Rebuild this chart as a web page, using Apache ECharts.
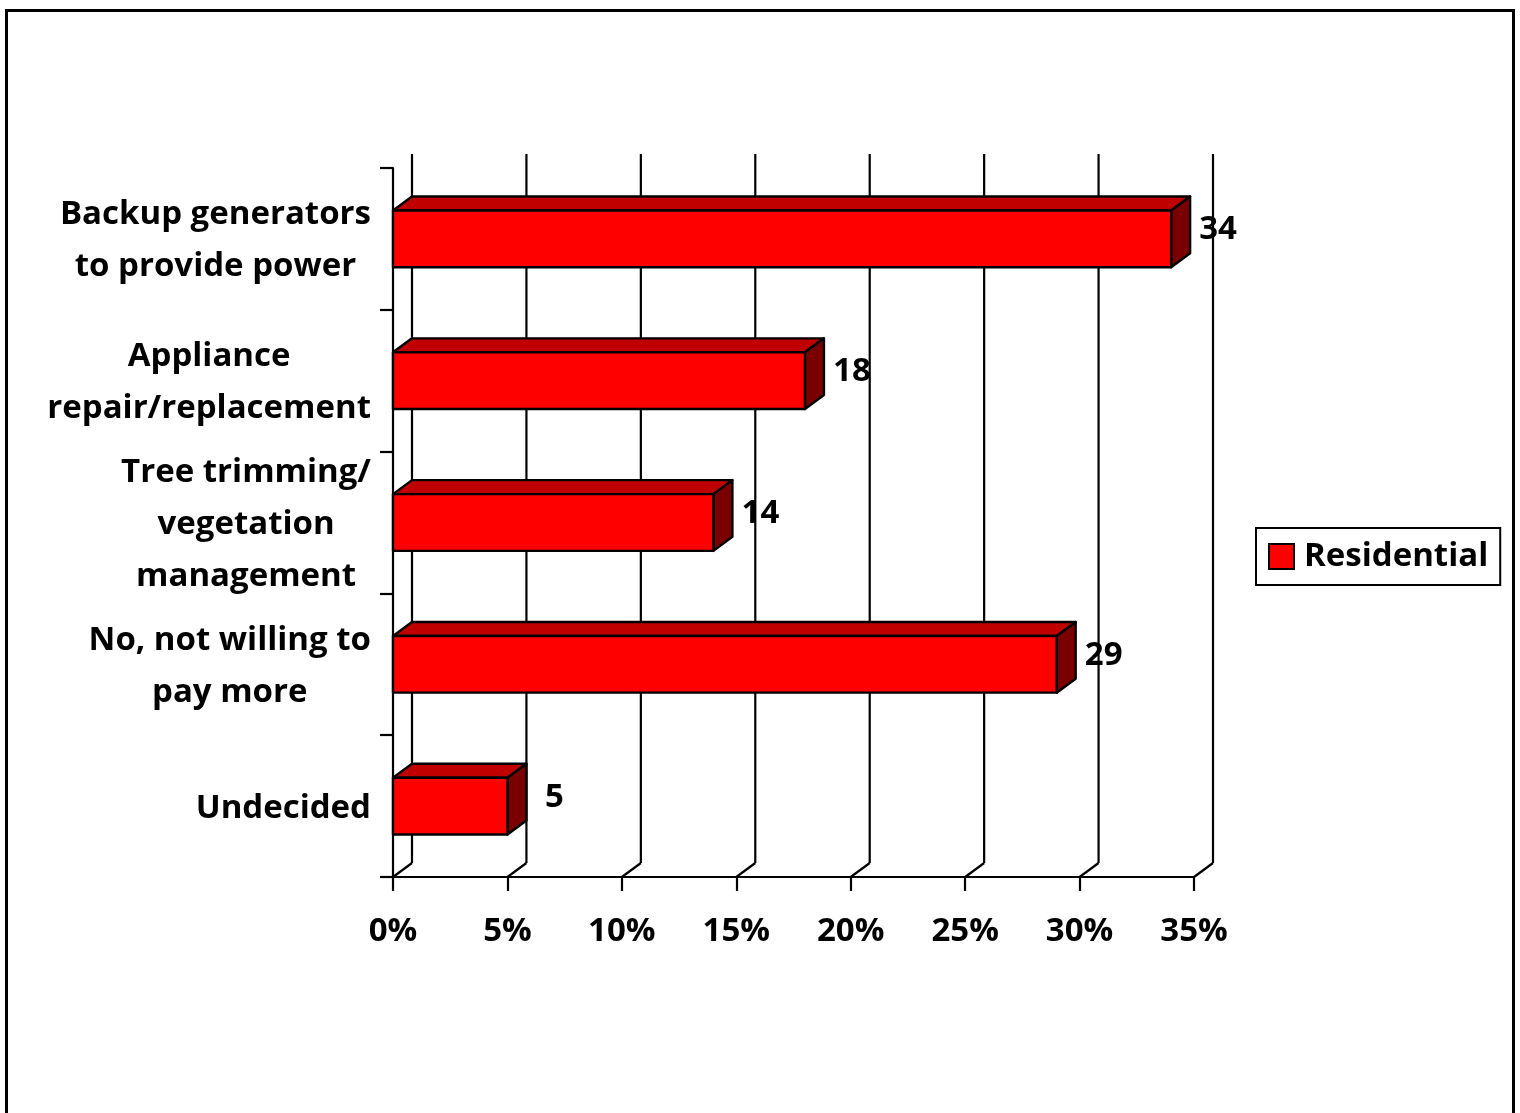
<!DOCTYPE html>
<html>
<head>
<meta charset="utf-8">
<script src="https://cdn.jsdelivr.net/npm/echarts@6/dist/echarts.min.js"></script>
<style>
  html, body { margin: 0; padding: 0; background: #fff; }
  #chart { width: 1520px; height: 1113px; }
</style>
</head>
<body>
<div id="chart"></div>
<script>
// Categories (top to bottom) and their residential shares in percent
const categories = [
  'Backup generators\nto provide power',
  'Appliance\nrepair/replacement',
  'Tree trimming/\nvegetation\nmanagement',
  'No, not willing to\npay more',
  'Undecided'
];
const residential = [34, 18, 14, 29, 5];
const valueTicks = [0, 5, 10, 15, 20, 25, 30, 35];
const seriesName = 'Residential';

const FONT = '"Open Sans"';
const FSIZE = 33;
const DEPTH_X = 19, DEPTH_Y = 14;

const chart = echarts.init(document.getElementById('chart'), null, { renderer: 'canvas' });

function bandEdges(api) {
  const band = api.size([0, 1])[1];
  const top = api.coord([0, 0])[1] - band / 2;
  const bottom = api.coord([0, categories.length - 1])[1] + band / 2;
  return { band, top, bottom };
}

// Back-wall gridlines with the floor diagonals
function renderGrid(params, api) {
  const v = api.value(0);
  const x = api.coord([v, 0])[0];
  const e = bandEdges(api);
  const lineStyle = { stroke: '#000', lineWidth: 2.2, fill: null };
  return {
    type: 'group',
    children: [
      { type: 'line', shape: { x1: x + DEPTH_X, y1: e.top - DEPTH_Y, x2: x + DEPTH_X, y2: e.bottom - DEPTH_Y }, style: lineStyle },
      { type: 'line', shape: { x1: x, y1: e.bottom, x2: x + DEPTH_X, y2: e.bottom - DEPTH_Y }, style: lineStyle }
    ]
  };
}

// 3D-looking horizontal bars: front face, top face, end face and value label
function renderBar(params, api) {
  const v = api.value(0);
  const c = api.value(1);
  const p0 = api.coord([0, c]);
  const p1 = api.coord([v, c]);
  const band = api.size([0, 1])[1];
  const h = band * 0.4;
  const x0 = p0[0], x1 = p1[0];
  const yT = p1[1] - h / 2, yB = p1[1] + h / 2;
  const edge = { stroke: '#000', lineWidth: 2.4, lineJoin: 'round' };
  return {
    type: 'group',
    children: [
      { type: 'polygon', shape: { points: [[x0, yT], [x0 + DEPTH_X, yT - DEPTH_Y], [x1 + DEPTH_X, yT - DEPTH_Y], [x1, yT]] },
        style: Object.assign({ fill: '#C00000' }, edge) },
      { type: 'polygon', shape: { points: [[x1, yT], [x1 + DEPTH_X, yT - DEPTH_Y], [x1 + DEPTH_X, yB - DEPTH_Y], [x1, yB]] },
        style: Object.assign({ fill: '#7A0000' }, edge) },
      { type: 'rect', shape: { x: x0, y: yT, width: x1 - x0, height: yB - yT },
        style: Object.assign({ fill: '#FF0000' }, edge) },
      { type: 'text', x: x1 + 47, y: p1[1] - 9,
        style: { text: String(v), fill: '#000', font: 'bold ' + FSIZE + 'px ' + FONT, textAlign: 'center', textVerticalAlign: 'middle' } }
    ]
  };
}

const option = {
  backgroundColor: '#fff',
  animation: false,
  graphic: [{
    type: 'rect', left: 4, top: 8, z: -10,
    shape: { width: 1507, height: 1200 },
    style: { fill: null, stroke: '#000', lineWidth: 3 }
  }],
  grid: { left: 393, right: 326, top: 168, bottom: 236 },
  legend: {
    data: [seriesName],
    left: 1256, top: 528,
    orient: 'vertical',
    padding: [12, 12, 12, 12],
    borderColor: '#000', borderWidth: 2,
    itemWidth: 25, itemHeight: 25,
    icon: 'rect',
    itemStyle: { color: '#FF0000', borderColor: '#000', borderWidth: 2 },
    textStyle: { fontFamily: FONT, fontWeight: 'bold', fontSize: FSIZE, color: '#000', padding: [0, 0, 0, 5] }
  },
  xAxis: {
    type: 'value', min: 0, max: 35, interval: 5,
    axisLine: { show: true, lineStyle: { color: '#000', width: 2.2 } },
    axisTick: { show: true, length: 14, lineStyle: { color: '#000', width: 2.2 } },
    splitLine: { show: false },
    axisLabel: { margin: 38, color: '#000', fontFamily: FONT, fontWeight: 'bold', fontSize: FSIZE,
      formatter: v => v + '%' }
  },
  yAxis: {
    type: 'category', inverse: true, data: categories,
    axisLine: { show: true, lineStyle: { color: '#000', width: 2.2 } },
    axisTick: { show: true, length: 13, lineStyle: { color: '#000', width: 2.2 } },
    axisLabel: {
      margin: 22, color: '#000', lineHeight: 52, padding: [4, 0, 0, 0],
      formatter: s => s.split('\n').map(l => '{c|' + l + '}').join('\n'),
      rich: { c: { align: 'center', fontFamily: FONT, fontWeight: 'bold', fontSize: FSIZE, lineHeight: 52, color: '#000' } }
    }
  },
  series: [
    {
      type: 'custom', name: 'grid', silent: true, z: 1,
      renderItem: renderGrid,
      encode: { x: 0 },
      data: valueTicks.map(v => [v])
    },
    {
      type: 'custom', name: seriesName, z: 2,
      itemStyle: { color: '#FF0000' },
      renderItem: renderBar,
      encode: { x: 0, y: 1 },
      data: residential.map((v, i) => [v, i])
    }
  ]
};
chart.setOption(option);
</script>
</body>
</html>
